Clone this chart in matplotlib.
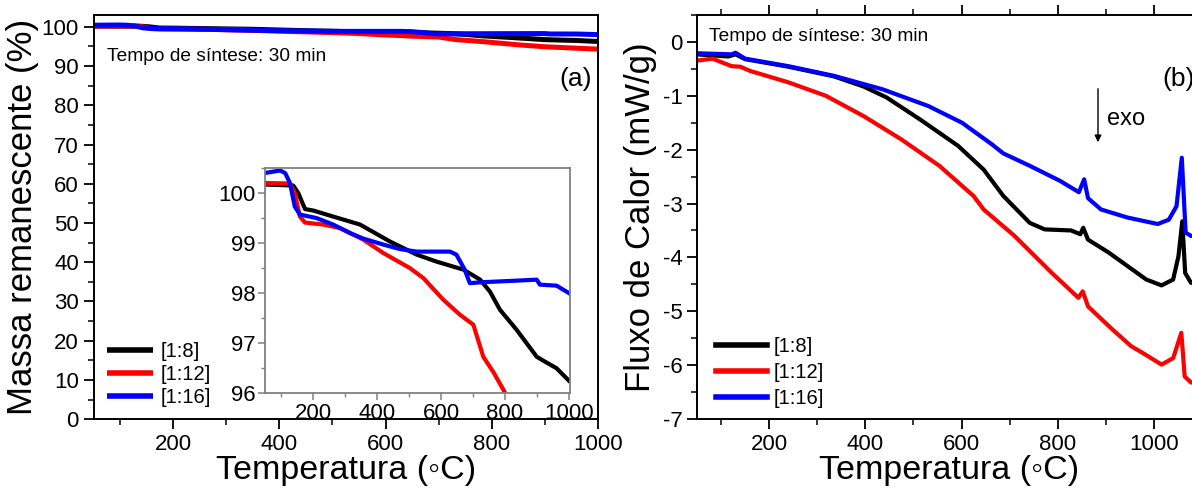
import numpy as np
import matplotlib
matplotlib.use('Agg')
import matplotlib.pyplot as plt
from matplotlib.ticker import MultipleLocator

plt.rcParams['font.family'] = ['Liberation Sans', 'DejaVu Sans']
plt.rcParams['axes.unicode_minus'] = False

labels = ['[1:8]', '[1:12]', '[1:16]']
colors = ['black', 'red', 'blue']

# TGA (massa remanescente, %)
tga_t_18 = [50, 138, 154, 175, 201, 263, 347, 441, 524, 586, 670, 722, 753, 784, 836, 899, 920, 961, 1000]
tga_m_18 = [100.17, 100.15, 100.0, 99.68, 99.65, 99.53, 99.37, 99.03, 98.77, 98.63, 98.47, 98.27, 98.03,
            97.67, 97.27, 96.73, 96.65, 96.5, 96.25]
tga_t_112 = [50, 128, 143, 159, 175, 232, 284, 357, 420, 503, 545, 607, 659, 701, 732, 763, 795, 850, 900, 950, 1000]
tga_m_112 = [100.2, 100.19, 100.0, 99.53, 99.41, 99.37, 99.3, 99.07, 98.8, 98.5, 98.3, 97.87, 97.57, 97.37,
             96.73, 96.43, 96.07, 95.4, 94.9, 94.6, 94.3]
tga_t_116 = [50, 97, 113, 128, 143, 159, 211, 263, 316, 357, 420, 472, 524, 628, 648, 674, 690, 732, 836,
             899, 909, 961, 1000]
tga_m_116 = [100.4, 100.45, 100.4, 100.2, 99.73, 99.57, 99.5, 99.37, 99.2, 99.09, 98.97, 98.88, 98.83, 98.83,
             98.77, 98.47, 98.2, 98.22, 98.25, 98.27, 98.17, 98.15, 98.0]

# DSC (fluxo de calor, mW/g)
dsc_t_18 = [48, 115, 130, 150, 240, 335, 397, 444, 514, 593, 646, 687, 742, 773, 828, 847, 853, 863, 906,
            945, 984, 1016, 1040, 1051, 1059, 1065, 1077, 1095]
dsc_v_18 = [-0.23, -0.27, -0.23, -0.32, -0.46, -0.64, -0.83, -1.03, -1.44, -1.93, -2.37, -2.86, -3.36, -3.48,
            -3.5, -3.57, -3.45, -3.67, -3.91, -4.16, -4.41, -4.52, -4.41, -3.98, -3.33, -4.29, -4.47, -4.5]
dsc_t_112 = [48, 82, 122, 140, 161, 240, 318, 397, 475, 554, 625, 646, 710, 788, 843, 852, 863, 914, 953,
             976, 1016, 1040, 1057, 1064, 1077, 1095]
dsc_v_112 = [-0.35, -0.31, -0.45, -0.46, -0.54, -0.75, -1.0, -1.38, -1.81, -2.3, -2.86, -3.11, -3.6, -4.29,
             -4.75, -4.63, -4.91, -5.34, -5.65, -5.77, -5.99, -5.87, -5.4, -6.21, -6.32, -6.35]
dsc_t_116 = [48, 122, 130, 150, 240, 335, 436, 531, 601, 663, 687, 742, 805, 844, 855, 863, 890, 945, 1008,
             1031, 1047, 1058, 1066, 1077, 1095]
dsc_v_116 = [-0.21, -0.23, -0.2, -0.31, -0.45, -0.63, -0.88, -1.19, -1.5, -1.9, -2.07, -2.3, -2.58, -2.79,
             -2.55, -2.9, -3.11, -3.26, -3.38, -3.3, -3.05, -2.15, -3.54, -3.6, -3.62]

tga = [(tga_t_18, tga_m_18), (tga_t_112, tga_m_112), (tga_t_116, tga_m_116)]
dsc = [(dsc_t_18, dsc_v_18), (dsc_t_112, dsc_v_112), (dsc_t_116, dsc_v_116)]

xlab = 'Temperatura (\u25e6C)'

W, H = 1192, 488
fig = plt.figure(figsize=(W / 100, H / 100), dpi=100)

def style_ax(ax, top_ticks=False):
    ax.tick_params(axis='both', which='major', direction='out', length=7, width=1.3, labelsize=16,
                   top=top_ticks, right=False)
    ax.tick_params(axis='both', which='minor', direction='out', length=4, width=1.1,
                   top=top_ticks, right=False)
    for s in ax.spines.values():
        s.set_linewidth(1.4)

# ---- panel (a)
ax1 = fig.add_axes([93.5 / W, 1 - 419.2 / H, 504.5 / W, 404.2 / H])
for (t, m), c, lab in zip(tga, colors, labels):
    ax1.plot(t, m, color=c, lw=3.6, label=lab, solid_capstyle='butt')
ax1.set_xlim(50, 1000)
ax1.set_ylim(0, 103)
ax1.xaxis.set_major_locator(MultipleLocator(200))
ax1.xaxis.set_minor_locator(MultipleLocator(100))
ax1.yaxis.set_major_locator(MultipleLocator(10))
ax1.yaxis.set_minor_locator(MultipleLocator(5))
style_ax(ax1)
ax1.set_xlabel(xlab, fontsize=24.5, labelpad=0)
ax1.set_ylabel('Massa remanescente (%)', fontsize=25, labelpad=2)
ax1.text(107 / W, 1 - 61 / H, 'Tempo de síntese: 30 min', transform=fig.transFigure,
         fontsize=13.8, va='baseline', ha='left')
ax1.text(592 / W, 1 - 79 / H, '(a)', transform=fig.transFigure, fontsize=19, ha='right', va='center')
leg1 = ax1.legend(loc='lower left', bbox_to_anchor=(0.027, 0.03), frameon=False, fontsize=14.5,
                  handlelength=2.3, handletextpad=0.35, labelspacing=0.2, borderpad=0, borderaxespad=0)
for l in leg1.get_lines():
    l.set_linewidth(4)

# inset
axi = fig.add_axes([265 / W, 1 - 393.3 / H, 305 / W, 225.3 / H])
for (t, m), c in zip(tga, colors):
    axi.plot(t, m, color=c, lw=3.0)
axi.set_xlim(50, 1003)
axi.set_ylim(96, 100.5)
axi.xaxis.set_major_locator(MultipleLocator(200))
axi.xaxis.set_minor_locator(MultipleLocator(100))
axi.yaxis.set_major_locator(MultipleLocator(1))
axi.yaxis.set_minor_locator(MultipleLocator(0.5))
axi.tick_params(axis='both', which='major', direction='out', length=5, width=1.1, labelsize=16,
                color='#808080', pad=2)
axi.tick_params(axis='both', which='minor', direction='out', length=3, width=1.0, color='#808080')
for s in axi.spines.values():
    s.set_color('#808080')
    s.set_linewidth(1.3)

# ---- panel (b)
ax2 = fig.add_axes([697 / W, 1 - 419 / H, 505 / W, 404 / H])
for (t, v), c, lab in zip(dsc, colors, labels):
    ax2.plot(t, v, color=c, lw=3.0, label=lab)
ax2.set_xlim(50, 1100)
ax2.set_ylim(-7, 0.5)
ax2.xaxis.set_major_locator(MultipleLocator(200))
ax2.xaxis.set_minor_locator(MultipleLocator(100))
ax2.yaxis.set_major_locator(MultipleLocator(1))
ax2.yaxis.set_minor_locator(MultipleLocator(0.5))
style_ax(ax2, top_ticks=True)
ax2.set_xlabel(xlab, fontsize=24.5, labelpad=0)
ax2.set_ylabel('Fluxo de Calor (mW/g)', fontsize=25, labelpad=4)
ax2.text(709 / W, 1 - 41 / H, 'Tempo de síntese: 30 min', transform=fig.transFigure,
         fontsize=13.8, va='baseline', ha='left')
ax2.text(1162 / W, 1 - 79 / H, '(b)', transform=fig.transFigure, fontsize=19, ha='left', va='center')
ax2.text(1107 / W, 1 - 125 / H, 'exo', transform=fig.transFigure, fontsize=17, ha='left', va='baseline')
ax2.annotate('', xy=(1098 / W, 1 - 145 / H), xytext=(1098 / W, 1 - 86 / H),
             xycoords='figure fraction', textcoords='figure fraction',
             arrowprops=dict(arrowstyle='-|>', color='black', lw=1.0, mutation_scale=10))
leg2 = ax2.legend(loc='lower left', bbox_to_anchor=(0.038, 0.027), frameon=False, fontsize=14.5,
                  handlelength=2.5, handletextpad=0.35, labelspacing=0.35, borderpad=0, borderaxespad=0)
for l in leg2.get_lines():
    l.set_linewidth(4)

fig.savefig('out.png', dpi=100)
